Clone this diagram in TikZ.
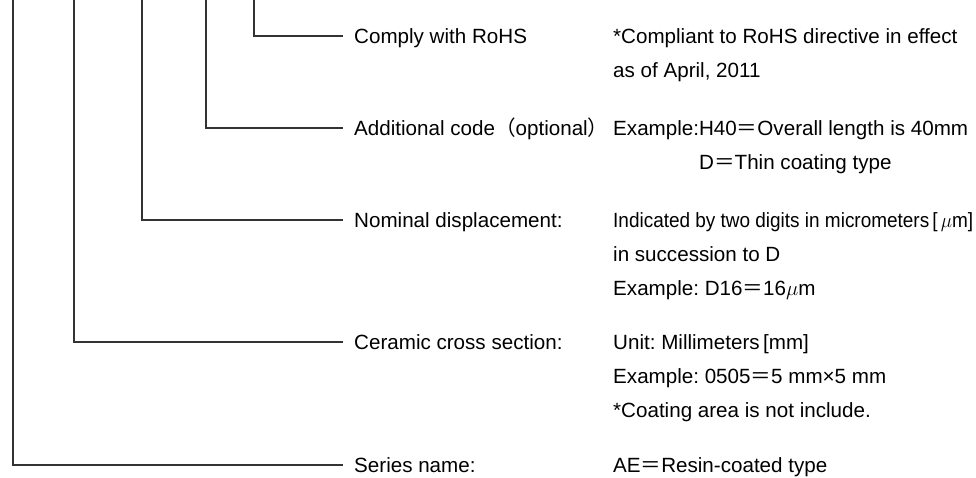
\documentclass[tikz,border=0pt]{standalone}
\usepackage{fontspec}
\setmainfont{Liberation Sans}
\newfontfamily\cjk{Noto Sans CJK JP}
\newcommand{\fw}[1]{{\cjk #1}}
\begin{document}
\begin{tikzpicture}[x=1pt,y=-1pt,
  txt/.style={anchor=west, inner xsep=0pt, inner ysep=0pt, text height=14.5pt, text depth=0pt,
    font=\fontsize{20.6pt}{24pt}\selectfont\frenchspacing},
  lbl/.style={txt, inner xsep=11pt},
  leader/.style={draw=black!80, line width=1.3pt}]
\useasboundingbox (0,0) rectangle (976,478);
\fill[white] (0,0) rectangle (976,478);

% free ends at the top edge
\coordinate (t1) at (254,0);
\coordinate (t2) at (206,0);
\coordinate (t3) at (142,0);
\coordinate (t4) at (74,0);
\coordinate (t5) at (13,0);

% left labels (lines end at x=343)
\node[lbl] (rohs) at (343,36) {Comply with RoHS};
\node[lbl] (add)  at (343,128) {Additional code\fw{（}optional\fw{）}};
\node[lbl] (nom)  at (343,220) {Nominal displacement:};
\node[lbl] (cer)  at (343,342) {Ceramic cross section:};
\node[lbl] (ser)  at (343,465) {Series name:};

% descriptions
\node[txt] (r1) at (613,36) {*Compliant to RoHS directive in effect};
\node[txt] (r2) at (613,70) {as of April, 2011};
\node[txt] (a1) at (613,128) {Example:H40\fw{＝}Overall length is 40mm};
\node[txt] (a2) at (699,162) {D\fw{＝}Thin coating type};
\node[txt] (n1) at (613,220) {\resizebox{360pt}{\height}{Indicated by two digits in micrometers\,[\,$\mu$m]}};
\node[txt] (n2) at (613,254) {in succession to D};
\node[txt] (n3) at (613,288) {Example: D16\fw{＝}16$\mu$m};
\node[txt] (c1) at (613,342) {Unit: Millimeters\,[mm]};
\node[txt] (c2) at (613,376) {Example: 0505\fw{＝}5 mm×5 mm};
\node[txt] (c3) at (613,410) {*Coating area is not include.};
\node[txt] (s1) at (613,465) {AE\fw{＝}Resin-coated type};

% leaders
\draw[leader] (t1) |- (rohs.west);
\draw[leader] (t2) |- (add.west);
\draw[leader] (t3) |- (nom.west);
\draw[leader] (t4) |- (cer.west);
\draw[leader] (t5) |- (ser.west);
\end{tikzpicture}
\end{document}
